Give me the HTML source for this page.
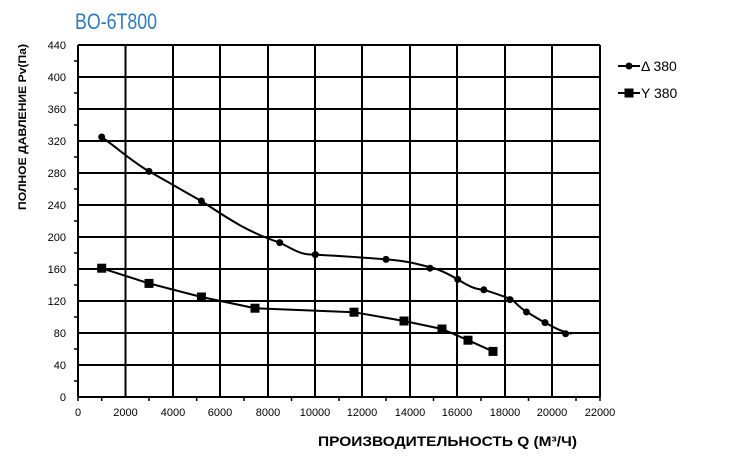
<!DOCTYPE html><html><head><style>body{margin:0;background:#fff}svg{display:block}</style></head><body>
<svg width="739" height="467" xmlns="http://www.w3.org/2000/svg" font-family="Liberation Sans, sans-serif">
<text x="75" y="29" font-size="22" fill="#2a7cc7" textLength="82" lengthAdjust="spacingAndGlyphs">BO-6T800</text>
<g stroke="#000" stroke-width="2" fill="none">
<path d="M78 45H600M78 77H600M78 109H600M78 141H600M78 173H600M78 205H600M78 237H600M78 269H600M78 301H600M78 333H600M78 365H600M78 397H600"/>
<path d="M78 45V397M125.5 45V397M173 45V397M220 45V397M268 45V397M315 45V397M362 45V397M410 45V397M457 45V397M505 45V397M552 45V397M600 45V397"/>
<path stroke-width="1.5" d="M74 61H78M74 93H78M74 125H78M74 157H78M74 189H78M74 221H78M74 253H78M74 285H78M74 317H78M74 349H78M74 381H78M101.7 397V401M149 397V401M196.7 397V401M244 397V401M291.5 397V401M339 397V401M386 397V401M433.5 397V401M481 397V401M528.5 397V401M576 397V401M78 397V401M600 397V401"/>
</g>
<g font-size="11" text-anchor="end" fill="#000">
<text x="66" y="49">440</text><text x="66" y="81">400</text><text x="66" y="113">360</text><text x="66" y="145">320</text><text x="66" y="177">280</text><text x="66" y="209">240</text><text x="66" y="241">200</text><text x="66" y="273">160</text><text x="66" y="305">120</text><text x="66" y="337">80</text><text x="66" y="369">40</text><text x="66" y="401">0</text>
</g>
<g font-size="11" text-anchor="middle">
<text x="78" y="416">0</text><text x="125.5" y="416">2000</text><text x="173" y="416">4000</text><text x="220" y="416">6000</text><text x="268" y="416">8000</text><text x="315" y="416">10000</text><text x="362" y="416">12000</text><text x="410" y="416">14000</text><text x="457" y="416">16000</text><text x="505" y="416">18000</text><text x="552" y="416">20000</text><text x="600" y="416">22000</text>
</g>
<text x="318" y="446" font-size="14" font-weight="bold" textLength="259" lengthAdjust="spacingAndGlyphs">ПРОИЗВОДИТЕЛЬНОСТЬ  Q  (М³/Ч)</text>
<text transform="translate(26,210) rotate(-90)" font-size="11" font-weight="bold" textLength="166" lengthAdjust="spacingAndGlyphs">ПОЛНОЕ ДАВЛЕНИЕ   Pv(Па)</text>
<path fill="none" stroke="#000" stroke-width="2" d="M101.7 137 C120 150 130 160 149 171.4 C170 183 185 192 201.4 201 C230 220 250 233 279.7 242.6 C295 250 300 255 315.3 254.6 C340 256 370 258 386 259.4 C410 261 420 265 434 268.2 C445 272 450 275 457.7 279.4 C470 287 475 289 483.8 289.8 C495 293 502 296 512.3 299.6 C518 305 520 308 526.5 311.6 C535 317 540 320 545 322.6 C555 328 560 331 571.6 333.8"/>
<g fill="#000"><circle cx="101.7" cy="137" r="3.5"/><circle cx="149" cy="171.4" r="3.5"/><circle cx="201.4" cy="201" r="3.5"/><circle cx="279.7" cy="242.6" r="3.5"/><circle cx="315.3" cy="254.6" r="3.5"/><circle cx="386" cy="259.4" r="3.5"/><circle cx="430" cy="268.2" r="3.5"/><circle cx="457.7" cy="279.4" r="3.5"/><circle cx="483.8" cy="289.8" r="3.5"/><circle cx="510" cy="299.6" r="3.5"/><circle cx="526.5" cy="312" r="3.5"/><circle cx="545" cy="322.6" r="3.5"/><circle cx="565.6" cy="333.8" r="3.5"/></g>
<path fill="none" stroke="#000" stroke-width="2" d="M101.7 268.2 L149 283.4 L201.4 297 L255 308.2 L354 312.2 L404 321 L442 329 L468 340.2 L493 351.4"/>
<g fill="#000"><rect x="97.2" y="263.7" width="9" height="9"/><rect x="144.5" y="278.9" width="9" height="9"/><rect x="196.9" y="292.5" width="9" height="9"/><rect x="250.5" y="303.7" width="9" height="9"/><rect x="349.5" y="307.7" width="9" height="9"/><rect x="399.5" y="316.5" width="9" height="9"/><rect x="437.5" y="324.5" width="9" height="9"/><rect x="463.5" y="335.7" width="9" height="9"/><rect x="488.5" y="346.9" width="9" height="9"/></g>
<path stroke="#000" stroke-width="2" d="M618 66H640M618 93H640"/>
<circle cx="629" cy="66" r="3.5"/><rect x="624.5" y="88.5" width="9" height="9"/>
<text x="641" y="71" font-size="14">Δ 380</text><text x="641" y="98" font-size="14">Y 380</text>
</svg></body></html>
